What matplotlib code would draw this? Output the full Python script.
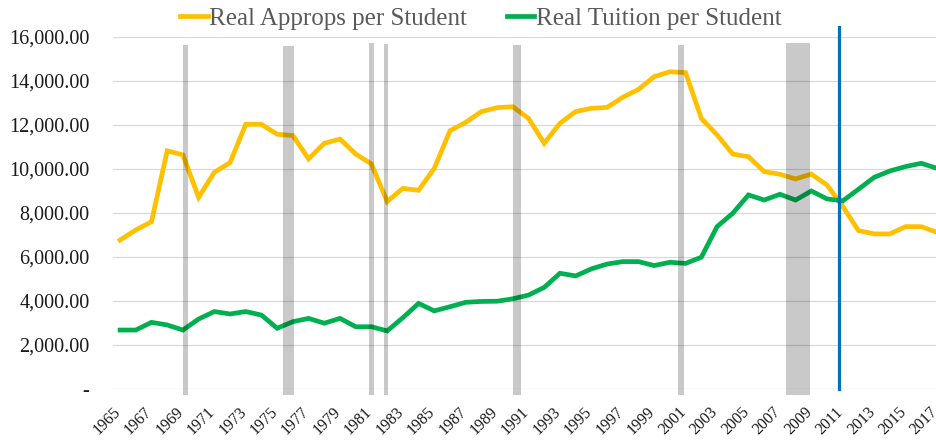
import matplotlib
matplotlib.use("Agg")
import matplotlib.pyplot as plt
import matplotlib.transforms as mtransforms

# datos
years = list(range(1965, 2018))
approps = [6770, 7230, 7600, 10830, 10640, 8710, 9850, 10290, 12030, 12030,
           11580, 11520, 10460, 11170, 11360, 10680, 10230, 8520, 9120, 9030,
           10030, 11740, 12120, 12610, 12790, 12830, 12300, 11170, 12080, 12610,
           12760, 12800, 13260, 13620, 14200, 14420, 14380, 12300, 11550, 10680,
           10560, 9880, 9760, 9550, 9770, 9270, 8300, 7200, 7050, 7050,
           7380, 7380, 7120]
tuition = [2680, 2680, 3030, 2910, 2680, 3180, 3520, 3410, 3520, 3360,
           2760, 3060, 3210, 2990, 3210, 2830, 2830, 2640, 3240, 3890,
           3550, 3740, 3940, 3980, 3990, 4100, 4270, 4620, 5260, 5140,
           5460, 5680, 5790, 5790, 5610, 5760, 5710, 5990, 7380, 7990,
           8820, 8590, 8850, 8590, 9000, 8640, 8550, 9080, 9620, 9910,
           10110, 10260, 10030]

# recesiones: inicio, fin
rec_start = [1969.0, 1975.4, 1980.85, 1981.8, 1990.0, 2000.5, 2007.4]
rec_end = [1969.3, 1976.1, 1981.15, 1982.05, 1990.5, 2000.9, 2008.9]
rec_top = [15650, 15580, 15720, 15680, 15650, 15620, 15730]
rec_bottom = -280
linea_azul = 2010.75

plt.rcParams['font.family'] = ['Liberation Serif', 'DejaVu Serif']

fig = plt.figure(figsize=(9.37, 4.42), dpi=100)
ax = fig.add_axes([113 / 937, 53 / 442, 824 / 937, 352 / 442])

for y in range(0, 16001, 2000):
    ax.axhline(y, color='#D9D9D9', lw=0.9, zorder=0)

ax.plot(years, approps, color='#FFC000', lw=3.4, solid_joinstyle='miter',
        label='Real Approps per Student', zorder=2)
ax.plot(years, tuition, color='#00B050', lw=3.4, solid_joinstyle='miter',
        label='Real Tuition per Student', zorder=2)

for s, e, t in zip(rec_start, rec_end, rec_top):
    ax.bar(s, t - rec_bottom, width=e - s, bottom=rec_bottom, align='edge',
           color='black', alpha=0.21, lw=0, clip_on=False, zorder=3)

ax.plot([linea_azul, linea_azul], [0, 16450], color='#0070C0', lw=2.3,
        clip_on=False, zorder=4)

ax.set_xlim(1964.55, 2017.0)
ax.set_ylim(0, 16000)
ax.set_yticks(range(0, 16001, 2000))
ax.set_yticklabels(['-'] + ['{:,.2f}'.format(v) for v in range(2000, 16001, 2000)])
ax.set_xticks(years[::2])
ax.set_xticklabels([str(y) for y in years[::2]], rotation=45, ha='right')
ax.tick_params(axis='y', length=0, pad=17, labelsize=14.5, labelcolor='#1a1a1a')
ax.tick_params(axis='x', length=0, pad=11, labelsize=11.5, labelcolor='#1a1a1a')
desplaza = mtransforms.ScaledTranslation(4 / 100, 0, fig.dpi_scale_trans)
for lab in ax.get_xticklabels():
    lab.set_transform(lab.get_transform() + desplaza)
for sp in ax.spines.values():
    sp.set_visible(False)

fig.legend(loc='center', bbox_to_anchor=(0.513, 0.958), ncol=2, frameon=False,
           fontsize=18, handlelength=1.1, handletextpad=0.05, columnspacing=1.6,
           labelcolor='#595959')

fig.savefig('out.png', dpi=100)
